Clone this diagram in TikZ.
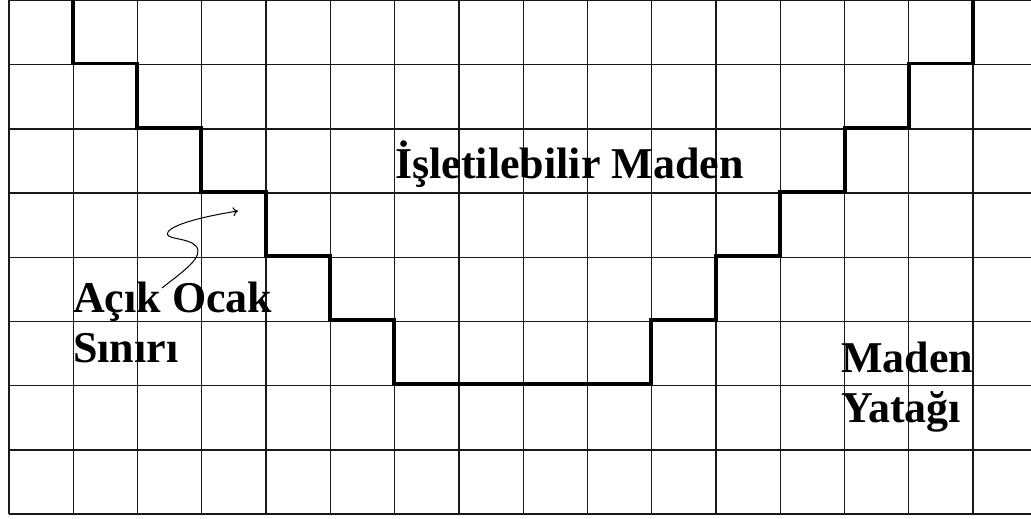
\documentclass[tikz,border=0pt]{standalone}
\usepackage{fontspec}
\setmainfont{Liberation Serif}
\usetikzlibrary{arrows.meta}
\begin{document}
\begin{tikzpicture}[x=1pt,y=-1pt,
  gridline/.style={draw=black!90,line width=1.3pt},
  pitline/.style={draw=black,line width=3.8pt,line join=miter,line cap=butt},
  lbl/.style={font=\bfseries\fontsize{44}{50}\selectfont,inner sep=0pt,anchor=base west,align=left},
  pointer/.style={draw=black,line width=1pt,-{To[length=5pt,width=9pt]}}]
\useasboundingbox (0,0) rectangle (1031,519);
\fill[white] (0,0) rectangle (1031,519);
% grid
\foreach \i in {0,...,15} {
  \draw[gridline] ({9+64.27*\i},0) -- ({9+64.27*\i},514);
}
\foreach \j in {0,...,8} {
  \draw[gridline] (9,{0.5+64.2*\j}) -- (1031,{0.5+64.2*\j});
}
% pit boundary
\draw[pitline] (72.6,0) -- (72.6,63.5) -- (137,63.5) -- (137,128) -- (201,128) -- (201,192)
  -- (266,192) -- (266,256) -- (330,256) -- (330,320) -- (394,320) -- (394,384)
  -- (651,384) -- (651,320) -- (716,320) -- (716,256) -- (780,256) -- (780,192)
  -- (845,192) -- (845,128) -- (909,128) -- (909,63.5) -- (973,63.5) -- (973,0);
% labels
\node[lbl] (ore) at (395,178) {İşletilebilir Maden};
\node[lbl] (pit) at (73,362) {Açık Ocak\\Sınırı};
\node[lbl] (dep) at (841,422) {Maden\\Yatağı};
% pointer
\coordinate (ps) at (162,288);
\coordinate (pe) at (238,211);
\draw[pointer] (ps) .. controls (182,272) and (205,257) .. (196,246)
  .. controls (188,237) and (163,240) .. (168,232)
  .. controls (174,223) and (212,215) .. (pe);
\end{tikzpicture}
\end{document}
